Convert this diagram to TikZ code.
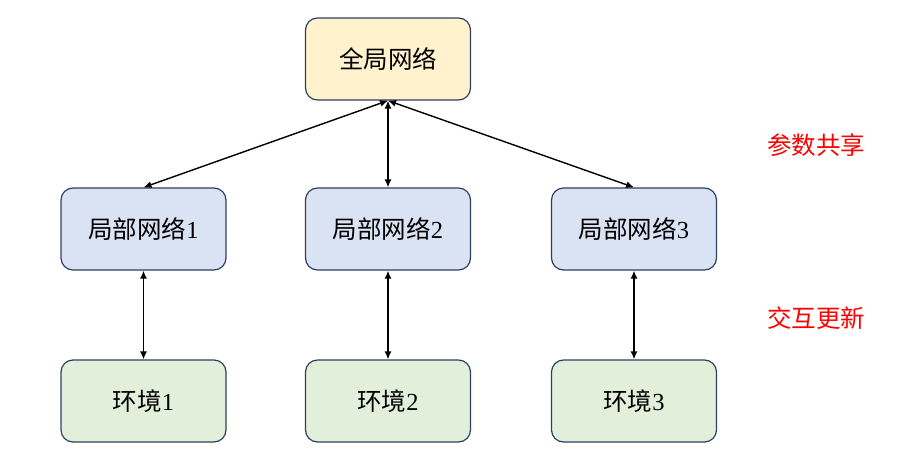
\documentclass[tikz,border=0pt]{standalone}
\usepackage{fontspec}
\setmainfont{Liberation Serif}
\newfontfamily\cjk{Noto Sans CJK SC}
\usetikzlibrary{arrows.meta}
\definecolor{edgeblue}{RGB}{47,64,95}
\definecolor{topfill}{RGB}{255,242,204}
\definecolor{midfill}{RGB}{218,227,243}
\definecolor{botfill}{RGB}{226,239,218}
\tikzset{
  box/.style={draw=edgeblue, line width=1.2pt, rounded corners=12pt,
    minimum width=165pt, minimum height=82pt, inner sep=0pt,
    font=\fontsize{24.5}{28}\selectfont},
  topbox/.style={box, fill=topfill},
  midbox/.style={box, fill=midfill},
  botbox/.style={box, fill=botfill},
  link/.style={line width=1.4pt, {Latex[length=8pt,width=7pt]}-{Latex[length=8pt,width=7pt]}},
  redlabel/.style={text=red, font=\fontsize{24.5}{28}\selectfont\cjk}
}
\begin{document}
\begin{tikzpicture}[x=1pt,y=-1pt]
\useasboundingbox (0,0) rectangle (905,458);
\node[topbox] (g) at (388,59) {\cjk 全局网络};
\node[midbox] (m1) at (143.5,229) {{\cjk 局部网络}1};
\node[midbox] (m2) at (388,229) {{\cjk 局部网络}2};
\node[midbox] (m3) at (634,229) {{\cjk 局部网络}3};
\node[botbox] (e1) at (143.5,401) {{\cjk 环境}1};
\node[botbox] (e2) at (388,401) {{\cjk 环境}2};
\node[botbox] (e3) at (634,401) {{\cjk 环境}3};
\draw[link] (g.south) -- (m1.north);
\draw[link] (g.south) -- (m2.north);
\draw[link] (g.south) -- (m3.north);
\draw[link] (m1.south) -- (e1.north);
\draw[link] (m2.south) -- (e2.north);
\draw[link] (m3.south) -- (e3.north);
\node[redlabel] (l1) at (816,145) {参数共享};
\node[redlabel] (l2) at (816,318) {交互更新};
\end{tikzpicture}
\end{document}
